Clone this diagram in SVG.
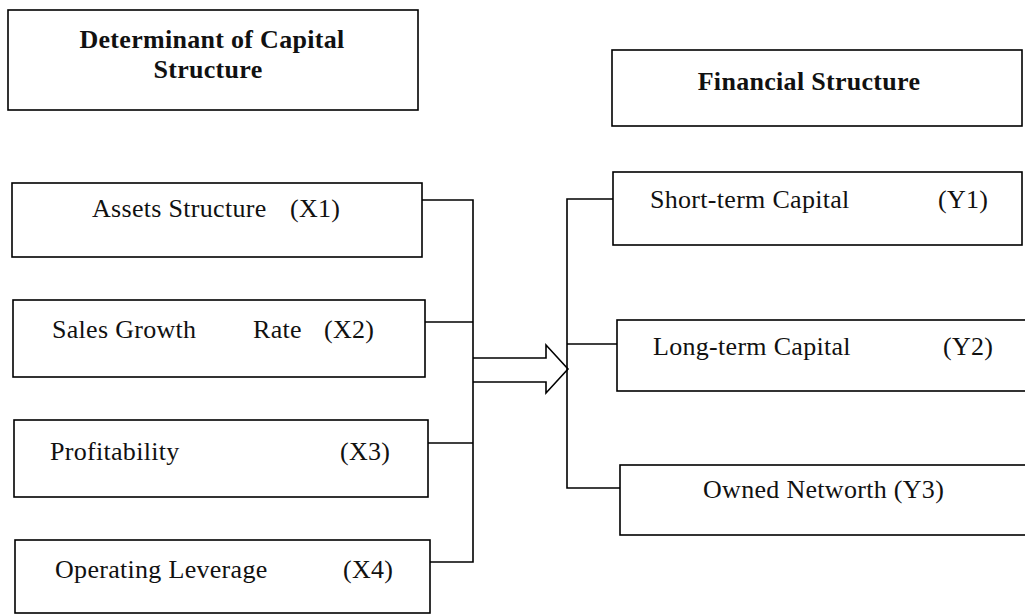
<svg xmlns="http://www.w3.org/2000/svg" width="1025" height="615" viewBox="0 0 1025 615">
<style>
.box{fill:#fff;stroke:#000;stroke-width:1.6}
.ln{fill:none;stroke:#000;stroke-width:1.6}
.t{font-family:"Liberation Serif","Times New Roman",serif;font-size:26px;letter-spacing:0.3px;fill:#111}
.h{font-family:"Liberation Serif","Times New Roman",serif;font-size:26px;font-weight:bold;letter-spacing:0.3px;fill:#111}
</style>
<rect width="1025" height="615" fill="#fff"/>
<g id="connectors">
<path class="ln" d="M422,200 H473 V562 H430"/>
<path class="ln" d="M425,322 H473"/>
<path class="ln" d="M428,443 H473"/>
<path class="ln" d="M613,199 H567 V488 H620"/>
<path class="ln" d="M567,344 H617"/>
<path class="ln" d="M473,358 H546 V345 L568,369 L546,393 V382 H473" fill="#fff"/>
</g>
<g id="hdr-determinant">
<rect class="box" x="8" y="10" width="410" height="100"/>
<text class="h" x="212" y="48" text-anchor="middle">Determinant of Capital</text>
<text class="h" x="208" y="78" text-anchor="middle">Structure</text>
</g>
<g id="hdr-financial">
<rect class="box" x="612" y="50" width="410" height="76"/>
<text class="h" x="809" y="90" text-anchor="middle">Financial Structure</text>
</g>
<g id="x1">
<rect class="box" x="12" y="183" width="410" height="74"/>
<text class="t" x="92" y="217">Assets Structure</text>
<text class="t" x="290" y="217">(X1)</text>
</g>
<g id="x2">
<rect class="box" x="13" y="300" width="412" height="77"/>
<text class="t" x="52" y="338">Sales Growth</text>
<text class="t" x="253" y="338">Rate</text>
<text class="t" x="324" y="338">(X2)</text>
</g>
<g id="x3">
<rect class="box" x="14" y="420" width="414" height="77"/>
<text class="t" x="50" y="460">Profitability</text>
<text class="t" x="340" y="460">(X3)</text>
</g>
<g id="x4">
<rect class="box" x="15" y="540" width="415" height="73"/>
<text class="t" x="55" y="578">Operating Leverage</text>
<text class="t" x="343" y="578">(X4)</text>
</g>
<g id="y1">
<rect class="box" x="613" y="172" width="409" height="73"/>
<text class="t" x="650" y="208">Short-term Capital</text>
<text class="t" x="938" y="208">(Y1)</text>
</g>
<g id="y2">
<rect class="box" x="617" y="320" width="420" height="71"/>
<text class="t" x="653" y="355">Long-term Capital</text>
<text class="t" x="943" y="355">(Y2)</text>
</g>
<g id="y3">
<rect class="box" x="620" y="465" width="420" height="70"/>
<text class="t" x="703" y="498">Owned Networth (Y3)</text>
</g>
</svg>
